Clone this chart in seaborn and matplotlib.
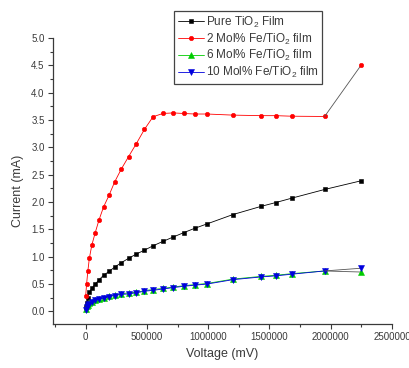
import matplotlib
matplotlib.use("Agg")
import matplotlib.pyplot as plt
from matplotlib.ticker import MultipleLocator, FormatStrFormatter, FuncFormatter
import seaborn as sns

# Applied voltage (mV), shared by all four films
voltage = [0, 8000, 18000, 30000, 50000, 78000, 110000, 146000, 190000, 237000,
           290000, 350000, 414000, 480000, 550000, 630000, 714000, 800000, 890000,
           990000, 1200000, 1430000, 1550000, 1680000, 1950000, 2250000]

# Measured current (mA)
pure_tio2 = [0.08, 0.16, 0.24, 0.35, 0.42, 0.50, 0.58, 0.66, 0.73, 0.81,
             0.89, 0.97, 1.05, 1.12, 1.20, 1.28, 1.36, 1.44, 1.52,
             1.60, 1.77, 1.92, 1.99, 2.07, 2.23, 2.39]
fe2 = [0.28, 0.51, 0.74, 0.97, 1.21, 1.44, 1.68, 1.91, 2.12, 2.37,
       2.60, 2.83, 3.07, 3.33, 3.56, 3.62, 3.63, 3.62, 3.61,
       3.61, 3.59, 3.58, 3.58, 3.57, 3.565, 4.51]
fe6 = [0.04, 0.09, 0.12, 0.15, 0.18, 0.21, 0.23, 0.25, 0.28, 0.30,
       0.32, 0.34, 0.35, 0.38, 0.40, 0.42, 0.445, 0.47, 0.49,
       0.51, 0.59, 0.64, 0.66, 0.69, 0.74, 0.72]
fe10 = [0.03, 0.08, 0.11, 0.14, 0.17, 0.20, 0.22, 0.24, 0.27, 0.29,
        0.31, 0.32, 0.34, 0.37, 0.385, 0.41, 0.435, 0.46, 0.48,
        0.50, 0.58, 0.63, 0.65, 0.68, 0.74, 0.79]

labels = ["Pure TiO$_2$ Film", "2 Mol% Fe/TiO$_2$ film",
          "6 Mol% Fe/TiO$_2$ film", "10 Mol% Fe/TiO$_2$ film"]

sns.set_style("ticks")
plt.rcParams["font.family"] = ["Liberation Sans", "DejaVu Sans"]
plt.rcParams["mathtext.default"] = "regular"

ink = "#3a3a3a"
fig = plt.figure(figsize=(4.09, 3.68), dpi=100)
ax = fig.add_axes([0.1296, 0.1196, 0.8288, 0.7771])

series = [
    (pure_tio2, "#000000", "s", 3.0, False),
    (fe2, "#ff0000", "o", 3.2, True),
    (fe6, "#00cc00", "^", 4.0, True),
    (fe10, "#0000dd", "v", 4.2, True),
]

handles = []
for (vals, col, mk, ms, gray_tail), lab in zip(series, labels):
    n = len(vals) - 1 if gray_tail else len(vals)
    sns.lineplot(x=voltage[:n], y=vals[:n], ax=ax, color=col, marker=mk,
                 markersize=ms, markeredgecolor=col, markeredgewidth=0.4,
                 linewidth=0.6, sort=False, estimator=None, legend=False)
    handles.append(ax.lines[-1])
    if gray_tail:
        # final segment drawn in dark grey, end point keeps the series marker
        sns.lineplot(x=voltage[-2:], y=vals[-2:], ax=ax, color="#555555",
                     linewidth=0.6, sort=False, estimator=None, legend=False)
        sns.lineplot(x=voltage[-1:], y=vals[-1:], ax=ax, color=col, marker=mk,
                     markersize=ms, markeredgecolor=col, markeredgewidth=0.4,
                     linestyle="", sort=False, estimator=None, legend=False)

ax.set_xlim(-266500, 2500000)
ax.set_ylim(-0.23, 5.0)
ax.xaxis.set_major_locator(MultipleLocator(500000))
ax.xaxis.set_minor_locator(MultipleLocator(250000))
ax.xaxis.set_major_formatter(FuncFormatter(lambda v, p: f"{int(round(v))}"))
ax.yaxis.set_major_locator(MultipleLocator(0.5))
ax.yaxis.set_minor_locator(MultipleLocator(0.25))
ax.yaxis.set_major_formatter(FormatStrFormatter("%.1f"))

for side in ("top", "right"):
    ax.spines[side].set_visible(False)
for side in ("left", "bottom"):
    ax.spines[side].set_color(ink)
    ax.spines[side].set_linewidth(0.9)

ax.tick_params(which="major", direction="out", length=3.5, width=0.8,
               color=ink, labelsize=7, labelcolor=ink, pad=2.5)
ax.tick_params(which="minor", direction="out", length=2.0, width=0.8, color=ink)

ax.set_xlabel("Voltage (mV)", fontsize=9, color=ink, labelpad=4)
ax.set_ylabel("Current (mA)", fontsize=9, color=ink)
ax.yaxis.set_label_coords(-0.085, 0.465)

leg = ax.legend(handles, labels, loc="upper left",
                bbox_to_anchor=(0.4254, 0.970), bbox_transform=fig.transFigure,
                borderaxespad=0, fontsize=8.5, frameon=True, fancybox=False,
                framealpha=1, edgecolor="#444444", handlelength=2.2,
                handletextpad=0.2, labelspacing=0.15, borderpad=0.3,
                numpoints=1)
leg.get_frame().set_linewidth(0.9)
for t in leg.get_texts():
    t.set_color(ink)

fig.savefig("out.png", dpi=100)
